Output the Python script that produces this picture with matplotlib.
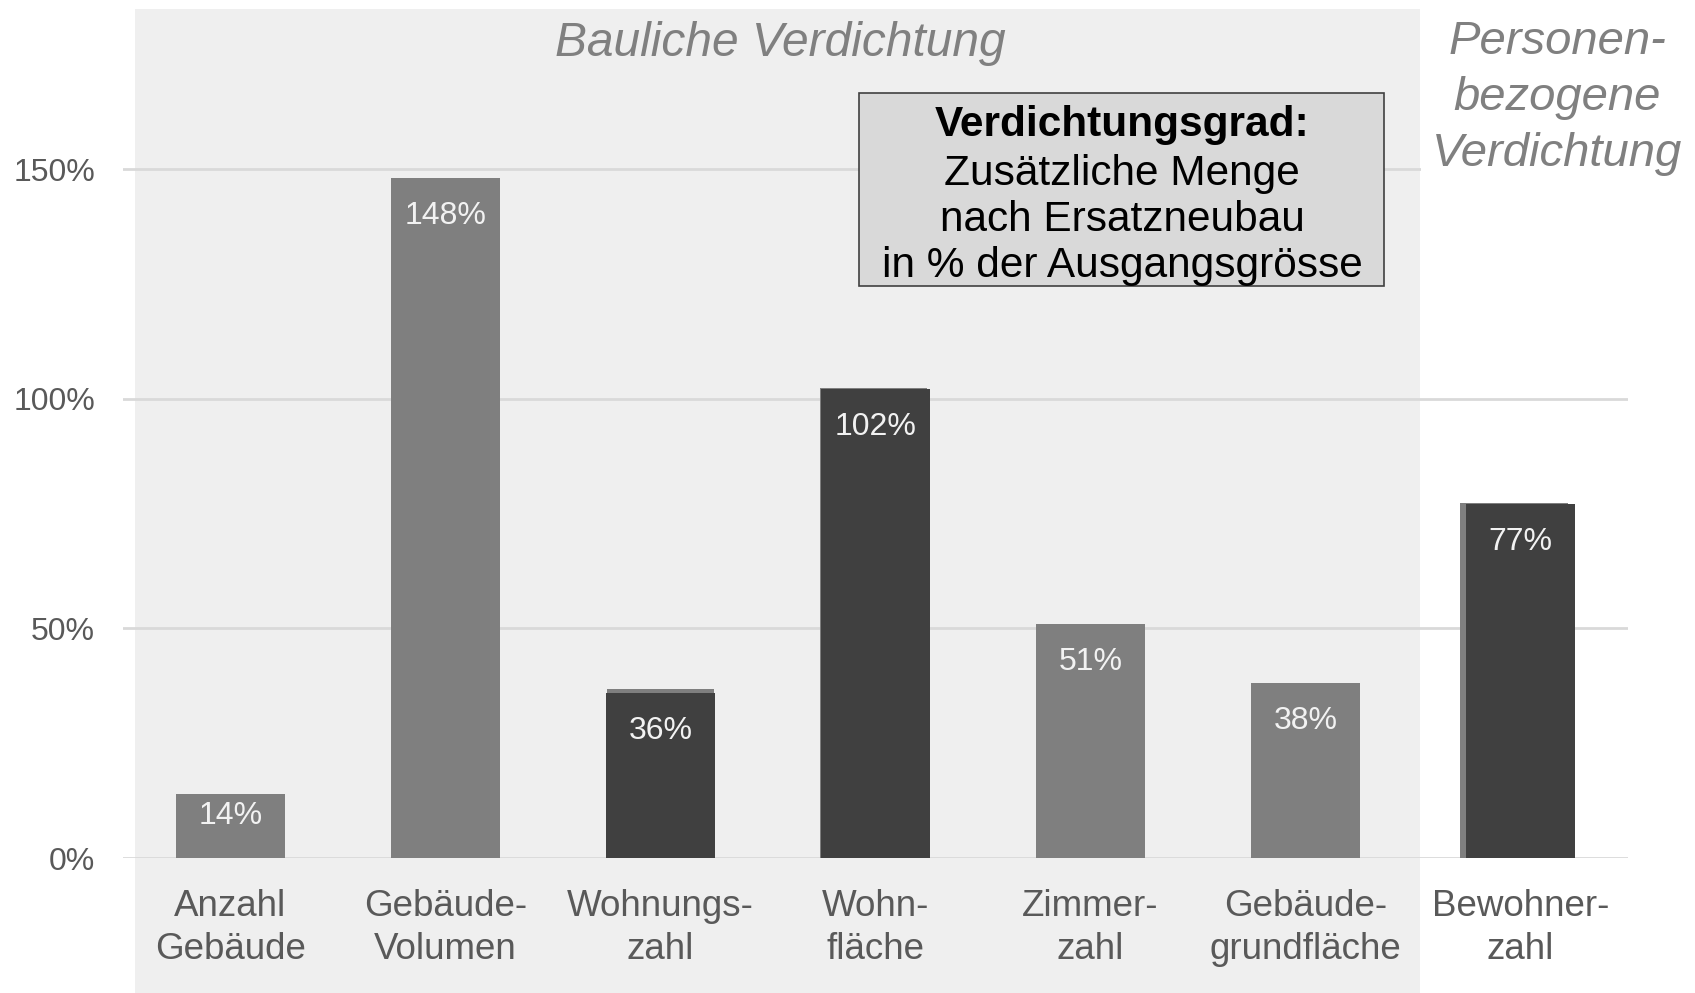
import matplotlib.pyplot as plt
from matplotlib.patches import Rectangle

plt.rcParams['font.family'] = ['Liberation Sans', 'DejaVu Sans']

# Daten
kategorien = ['Anzahl\nGebäude', 'Gebäude-\nVolumen', 'Wohnungs-\nzahl', 'Wohn-\nfläche',
              'Zimmer-\nzahl', 'Gebäude-\ngrundfläche', 'Bewohner-\nzahl']
werte = [14, 148, 36, 102, 51, 38, 77]
dunkel = [False, False, True, True, False, False, True]
# leicht hellere Balken hinter den dunklen Balken (Schatten im Original)
schatten = [0, 0, 36.9, 102.4, 0, 0, 77.2]
y_ticks = [0, 50, 100, 150]
y_ticklabels = ['0%', '50%', '100%', '150%']

HELL = '#7f7f7f'
DUNKEL = '#404040'
GRAU_TEXT = '#595959'
W, H = 1695, 993

fig = plt.figure(figsize=(16.95, 9.93), dpi=100, facecolor='white')

# grauer Hintergrund "Bauliche Verdichtung"
fig.patches.append(Rectangle((135 / W, 0), (1420 - 135) / W, 1 - 9 / H,
                             transform=fig.transFigure, facecolor='#efefef',
                             edgecolor='none', zorder=0))

ax = fig.add_axes([123 / W, 135 / H, (1628 - 123) / W, 858 / H])
ax.set_facecolor('none')
ax.set_zorder(1)

x = list(range(len(werte)))
farben = [DUNKEL if d else HELL for d in dunkel]
versatz = [0, 0, 0, -0.01, 0, 0, -0.03]
for i in x:
    if schatten[i] > 0:
        ax.bar(i + versatz[i], schatten[i], width=0.5, color=HELL, zorder=2)
ax.bar(x, werte, width=0.51, color=farben, zorder=3)

# Beschriftung innen oben, beim kurzen ersten Balken näher am Rand
abstand = [-5.5, -16.5, -16.5, -16.5, -16.5, -16.5, -16.5]
for i, v in enumerate(werte):
    ax.annotate(f'{v}%', (i, v), xytext=(0, abstand[i]), textcoords='offset points',
                ha='center', va='top', color='#f2f2f2', fontsize=23, zorder=4)

ax.set_xlim(-0.5, 6.5)
ax.set_ylim(0, 186.8)
ax.set_yticks(y_ticks)
ax.set_yticklabels(y_ticklabels)
ax.set_xticks(x)
ax.set_xticklabels(kategorien)
ax.tick_params(axis='y', length=0, pad=20, labelsize=23, labelcolor=GRAU_TEXT)
ax.tick_params(axis='x', length=0, pad=22, labelsize=26.5, labelcolor=GRAU_TEXT)
for lbl in ax.get_xticklabels():
    lbl.set_linespacing(1.31)
ax.grid(axis='y', color='#d9d9d9', linewidth=2, zorder=1)
ax.set_axisbelow(True)
for s in ax.spines.values():
    s.set_visible(False)

fig.text(780 / W, 1 - 43 / H, 'Bauliche Verdichtung', ha='center', va='center',
         fontsize=34.5, style='italic', color='#808080')
fig.text(1557 / W, 1 - 98 / H, 'Personen-\nbezogene\nVerdichtung', ha='center',
         va='center', fontsize=34, style='italic', color='#808080', linespacing=1.36,
         zorder=5, bbox=dict(facecolor='white', edgecolor='none', pad=8))

# Legendenkasten
fig.patches.append(Rectangle((859 / W, 1 - 286 / H), (1384 - 859) / W, (286 - 93) / H,
                             transform=fig.transFigure, facecolor='#d9d9d9',
                             edgecolor='#404040', linewidth=1.2, zorder=6))
fig.text(1122 / W, 1 - 125 / H, 'Verdichtungsgrad:', ha='center', va='center',
         fontsize=30.5, fontweight='bold', color='black', zorder=7)
fig.text(1122 / W, 1 - 220 / H, 'Zusätzliche Menge\nnach Ersatzneubau\nin % der Ausgangsgrösse',
         ha='center', va='center', fontsize=30.5, color='black', linespacing=1.19, zorder=7)

fig.savefig('out.png', dpi=100)
